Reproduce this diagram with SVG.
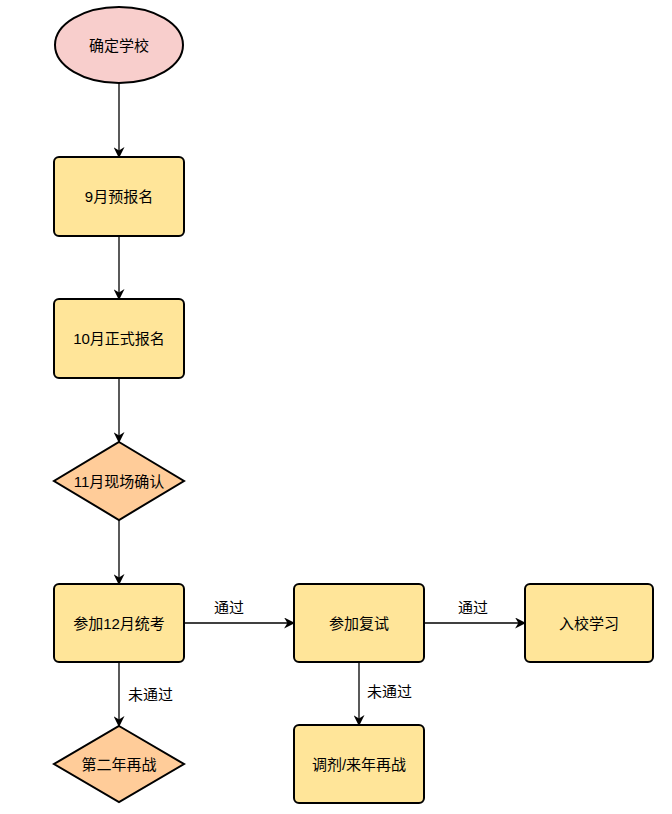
<svg xmlns="http://www.w3.org/2000/svg" width="672" height="814" viewBox="0 0 672 814">
<style>
text{font-family:"Liberation Sans","Noto Sans CJK SC",sans-serif;font-size:15px;fill:#000;text-anchor:middle;dominant-baseline:central}
.lbl{text-anchor:start}
.box{fill:#FFE599;stroke:#000;stroke-width:2}
.dia{fill:#FFCC99;stroke:#000;stroke-width:2}
.ell{fill:#F8CECC;stroke:#000;stroke-width:2}
.edge{stroke:#000;stroke-width:1.3;fill:none;marker-end:url(#arr)}
</style>
<defs>
<marker id="arr" viewBox="0 0 10 10" refX="9" refY="5" markerWidth="11" markerHeight="11" markerUnits="userSpaceOnUse" orient="auto">
<path d="M0,0 L10,5 L0,10 L3,5 z" fill="#000"/>
</marker>
</defs>
<rect width="672" height="814" fill="#fff"/>
<g id="connectors">
<line class="edge" x1="119" y1="84" x2="119" y2="157"/>
<line class="edge" x1="119" y1="236" x2="119" y2="299"/>
<line class="edge" x1="119" y1="378" x2="119" y2="442"/>
<line class="edge" x1="119" y1="520" x2="119" y2="584"/>
<line class="edge" x1="184" y1="623" x2="294" y2="623"/>
<line class="edge" x1="424" y1="623" x2="525" y2="623"/>
<line class="edge" x1="119" y1="662" x2="119" y2="726"/>
<line class="edge" x1="359" y1="662" x2="359" y2="725"/>
<text class="lbl" x="214" y="607">通过</text>
<text class="lbl" x="458" y="607">通过</text>
<text class="lbl" x="128" y="694">未通过</text>
<text class="lbl" x="367" y="691">未通过</text>
</g>
<g id="n1"><ellipse class="ell" cx="119" cy="45" rx="64" ry="38"/><text x="119" y="45">确定学校</text></g>
<g id="n2"><rect class="box" x="54" y="157" width="130" height="79" rx="5"/><text x="119" y="196">9月预报名</text></g>
<g id="n3"><rect class="box" x="54" y="299" width="130" height="79" rx="5"/><text x="119" y="338">10月正式报名</text></g>
<g id="n4"><polygon class="dia" points="119,442 184,481 119,520 54,481"/><text x="119" y="481">11月现场确认</text></g>
<g id="n5"><rect class="box" x="54" y="584" width="130" height="78" rx="5"/><text x="119" y="623">参加12月统考</text></g>
<g id="n6"><rect class="box" x="294" y="584" width="130" height="78" rx="5"/><text x="359" y="623">参加复试</text></g>
<g id="n7"><rect class="box" x="525" y="584" width="128" height="78" rx="5"/><text x="589" y="623">入校学习</text></g>
<g id="n8"><rect class="box" x="294" y="725" width="130" height="78" rx="5"/><text x="359" y="764">调剂/来年再战</text></g>
<g id="n9"><polygon class="dia" points="119,726 184,764 119,802 54,764"/><text x="119" y="764">第二年再战</text></g>
</svg>
